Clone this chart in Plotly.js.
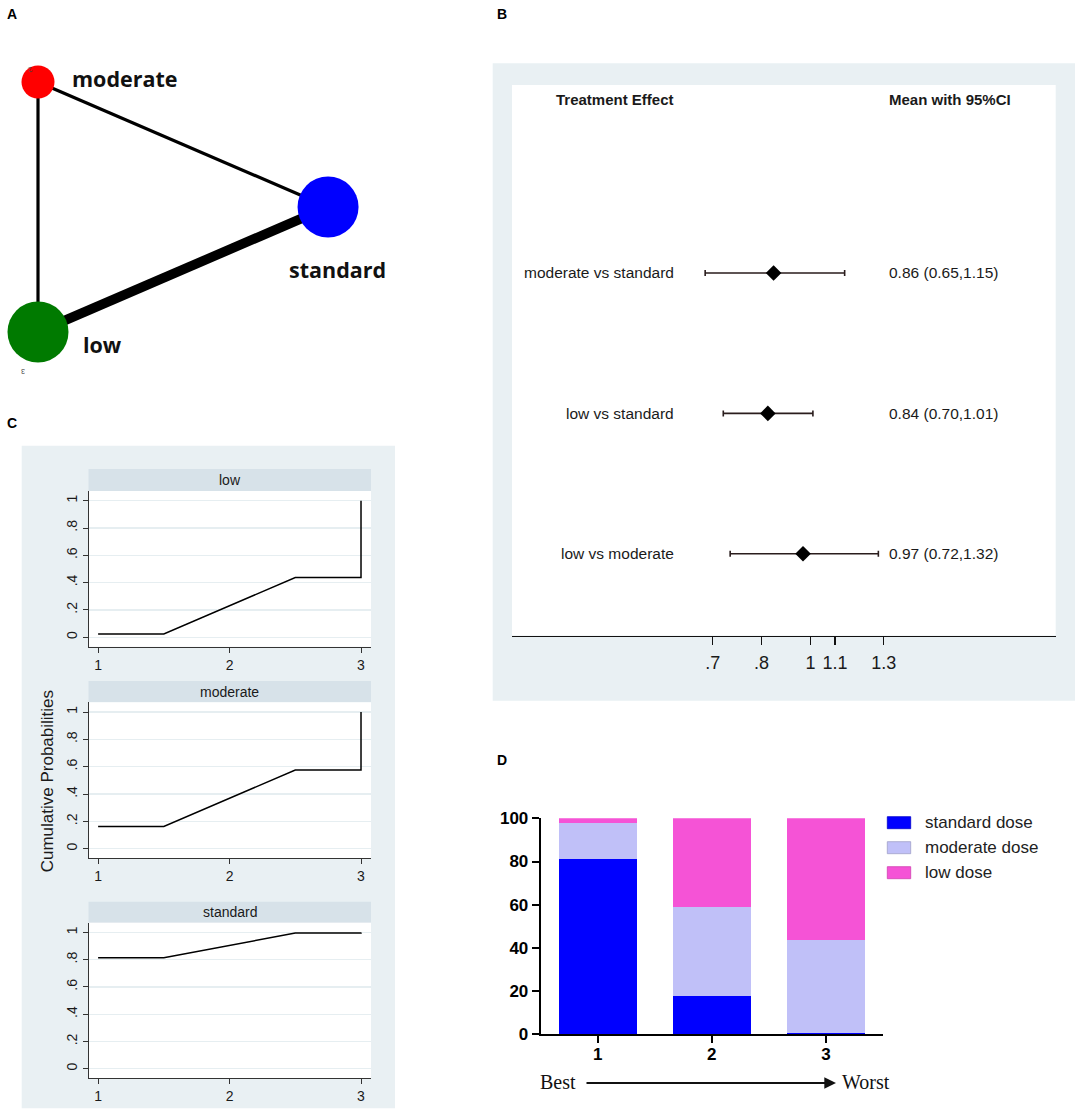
<!DOCTYPE html>
<html><head><meta charset="utf-8">
<script src="https://cdn.plot.ly/plotly-3.0.1.min.js"></script>
<style>html,body{margin:0;padding:0;background:#fff}#chart{width:1084px;height:1119px}</style>
</head><body><div id="chart"></div>
<script>
// ---------- DATA ----------
// Panel A: network of treatments
const nodeNames = ['moderate', 'standard', 'low'];
const edgeFrom = [0, 0, 2];          // moderate-low, moderate-standard, low-standard
const edgeTo = [2, 1, 1];
const edgeStudies = [1, 1, 3];

// Panel B: forest plot (mean with 95% CI)
const comparisons = ['moderate vs standard', 'low vs standard', 'low vs moderate'];
const effectMean = [0.86, 0.84, 0.97];
const ciLow = [0.65, 0.70, 0.72];
const ciHigh = [1.15, 1.01, 1.32];
const forestTickVals = [0.6703, 0.8187, 1, 1.1052, 1.3499];
const forestTickText = ['.7', '.8', '1', '1.1', '1.3'];

// Panel C: cumulative ranking probabilities
const cumPanels = ['low', 'moderate', 'standard'];
const ranks = [1, 2, 3];
const cumLow = [0.024, 0.437, 1];
const cumModerate = [0.163, 0.576, 1];
const cumStandard = [0.815, 0.995, 1];
const cumTickVals = [0, 0.2, 0.4, 0.6, 0.8, 1];
const cumTickText = ['0', '.2', '.4', '.6', '.8', '1'];

// Panel D: rank probabilities (%)
const rankLabels = ['1', '2', '3'];
const doseNames = ['standard dose', 'moderate dose', 'low dose'];
const pStandard = [81.2, 17.7, 0.8];
const pModerate = [16.5, 41.2, 42.7];
const pLow = [2.3, 41.1, 56.5];

// ---------- STYLE / LAYOUT ----------
const W = 1084, H = 1119;
const fx = p => p / W;
const fy = p => 1 - p / H;
const SANS = 'Liberation Sans, Arial, sans-serif';
const SERIF = 'Liberation Serif, Times New Roman, serif';
const INK = '#1a1a1a';
const BG = '#e9f0f3';
const STRIP = '#d7e2e9';

// network layout (unit triangle) and node styles
const netLayout = {moderate: [0, 1], standard: [1, 0.5], low: [0, 0]};
const nodeStyle = {moderate: {size: 33, color: '#ff0000'}, standard: {size: 61, color: '#0000ff'}, low: {size: 61, color: '#007a00'}};
const labelShift = {moderate: [31.7, 3.4, 'left'], standard: [9.2, -62.7, 'center'], low: [42.7, -12.7, 'left']};
const doseColors = ['#0000ff', '#c0c0f8', '#f553d6'];
const doseBorders = ['#0000cc', '#a0a0c8', '#d040b0'];

const traces = [];
const shapes = [];
const annotations = [];

// ---- Panel A ----
edgeFrom.forEach((a, i) => {
  const p = netLayout[nodeNames[a]], q = netLayout[nodeNames[edgeTo[i]]];
  traces.push({type: 'scatter', mode: 'lines', x: [p[0], q[0]], y: [p[1], q[1]],
    line: {color: '#000', width: 3.2 * edgeStudies[i]}, xaxis: 'x', yaxis: 'y', hoverinfo: 'skip', showlegend: false});
});
traces.push({type: 'scatter', mode: 'markers',
  x: nodeNames.map(n => netLayout[n][0]), y: nodeNames.map(n => netLayout[n][1]),
  marker: {size: nodeNames.map(n => nodeStyle[n].size), color: nodeNames.map(n => nodeStyle[n].color), line: {width: 0}, opacity: 1},
  xaxis: 'x', yaxis: 'y', hoverinfo: 'skip', showlegend: false});
nodeNames.forEach(n => {
  const s = labelShift[n];
  annotations.push({xref: 'x', yref: 'y', x: netLayout[n][0], y: netLayout[n][1], text: n, showarrow: false,
    xanchor: s[2], yanchor: 'middle', xshift: s[0], yshift: s[1],
    font: {family: 'Open Sans, sans-serif', size: 21.5, weight: 700, color: '#111'}});
});
annotations.push({xref: 'paper', yref: 'paper', x: fx(25), y: fy(63), text: '2', showarrow: false, textangle: 160, font: {family: SANS, size: 7, color: '#444'}});
annotations.push({xref: 'paper', yref: 'paper', x: fx(19), y: fy(366), text: '3', showarrow: false, textangle: 180, font: {family: SANS, size: 7, color: '#444'}});

// panel letters
[['A', 12, 14], ['B', 502, 14], ['C', 12, 423], ['D', 502, 760]].forEach(l => {
  annotations.push({xref: 'paper', yref: 'paper', x: fx(l[1]), y: fy(l[2]), text: l[0], showarrow: false,
    xanchor: 'center', yanchor: 'middle', font: {family: SANS, size: 14, weight: 700, color: '#000'}});
});

// ---- Panel B ----
const B = {x0: 512, x1: 1055.7, y0: 85, y1: 635.5};
shapes.push({type: 'rect', xref: 'paper', yref: 'paper', x0: fx(492.7), x1: fx(1075), y0: fy(700.7), y1: fy(63.3), fillcolor: BG, line: {width: 0}, layer: 'below'});
shapes.push({type: 'rect', xref: 'paper', yref: 'paper', x0: fx(B.x0), x1: fx(B.x1), y0: fy(B.y1), y1: fy(B.y0), fillcolor: '#fff', line: {width: 0}, layer: 'below'});
const rowPos = comparisons.map((c, i) => comparisons.length - i);
traces.push({type: 'scatter', mode: 'markers', x: effectMean, y: rowPos,
  error_x: {type: 'data', symmetric: false, array: effectMean.map((m, i) => ciHigh[i] - m),
    arrayminus: effectMean.map((m, i) => m - ciLow[i]), color: '#2a1d1d', thickness: 1.6, width: 3},
  marker: {symbol: 'diamond', size: 12, color: '#000'}, xaxis: 'x2', yaxis: 'y2', hoverinfo: 'skip', showlegend: false});
shapes.push({type: 'line', xref: 'x2', yref: 'y2 domain', x0: 0, x1: 0, y0: 0, y1: 1, line: {color: '#4a3cf0', width: 1.5}, layer: 'below'});
comparisons.forEach((c, i) => {
  annotations.push({xref: 'paper', yref: 'y2', x: fx(676), y: rowPos[i], text: c, showarrow: false, xanchor: 'right', yanchor: 'middle',
    font: {family: SANS, size: 15.5, color: INK}});
  annotations.push({xref: 'paper', yref: 'y2', x: fx(887), y: rowPos[i],
    text: effectMean[i].toFixed(2) + ' (' + ciLow[i].toFixed(2) + ',' + ciHigh[i].toFixed(2) + ')',
    showarrow: false, xanchor: 'left', yanchor: 'middle', font: {family: SANS, size: 15.5, color: INK}});
});
annotations.push({xref: 'paper', yref: 'paper', x: fx(676), y: fy(99), text: 'Treatment Effect', showarrow: false, xanchor: 'right', yanchor: 'middle', font: {family: SANS, size: 15, weight: 700, color: INK}});
annotations.push({xref: 'paper', yref: 'paper', x: fx(887), y: fy(99), text: 'Mean with 95%CI', showarrow: false, xanchor: 'left', yanchor: 'middle', font: {family: SANS, size: 15, weight: 700, color: INK}});

// ---- Panel C ----
shapes.push({type: 'rect', xref: 'paper', yref: 'paper', x0: fx(21.7), x1: fx(395), y0: fy(1108.3), y1: fy(445.7), fillcolor: BG, line: {width: 0}, layer: 'below'});
const cPlotX = [88.5, 371];
const cStrips = [[469, 491], [681, 702.3], [901.7, 922.7]];
const cBottoms = [646.7, 858.3, 1078.3];
const cData = [cumLow, cumModerate, cumStandard];
const cAxes = [];
cumPanels.forEach((name, k) => {
  const top = cStrips[k][1], bot = cBottoms[k];
  shapes.push({type: 'rect', xref: 'paper', yref: 'paper', x0: fx(cPlotX[0]), x1: fx(cPlotX[1]), y0: fy(cStrips[k][1]), y1: fy(cStrips[k][0]), fillcolor: STRIP, line: {width: 0}, layer: 'below'});
  shapes.push({type: 'rect', xref: 'paper', yref: 'paper', x0: fx(cPlotX[0]), x1: fx(cPlotX[1]), y0: fy(bot), y1: fy(top), fillcolor: '#fff', line: {width: 0}, layer: 'below'});
  annotations.push({xref: 'paper', yref: 'paper', x: fx((cPlotX[0] + cPlotX[1]) / 2), y: fy((cStrips[k][0] + cStrips[k][1]) / 2), text: name, showarrow: false,
    xanchor: 'center', yanchor: 'middle', font: {family: SANS, size: 14, color: INK}});
  const c = cData[k];
  const ax = String(k + 3);
  traces.push({type: 'scatter', mode: 'lines',
    x: [ranks[0], (ranks[0] + ranks[1]) / 2, (ranks[1] + ranks[2]) / 2, ranks[2], ranks[2]],
    y: [c[0], c[0], c[1], c[1], c[2]],
    line: {color: '#000', width: 1.5}, xaxis: 'x' + ax, yaxis: 'y' + ax, hoverinfo: 'skip', showlegend: false});
  cAxes.push({k: ax, xdom: [fx(cPlotX[0]), fx(cPlotX[1])], ydom: [fy(bot), fy(top)]});
});
annotations.push({xref: 'paper', yref: 'paper', x: fx(48.3), y: fy(781), text: 'Cumulative Probabilities', textangle: -90, showarrow: false,
  xanchor: 'center', yanchor: 'middle', font: {family: SANS, size: 17, color: INK}});

// ---- Panel D ----
const D = {x0: 540.7, x1: 883, y0: 818.3, y1: 1034.3};
[pStandard, pModerate, pLow].forEach((vals, i) => {
  traces.push({type: 'bar', x: ranks, y: vals, name: doseNames[i], width: 0.68,
    marker: {color: doseColors[i], line: {width: 0}}, xaxis: 'x6', yaxis: 'y6', hoverinfo: 'skip', showlegend: false});
});
const legRows = [822.7, 847.7, 872.7];
doseNames.forEach((n, i) => {
  shapes.push({type: 'rect', xref: 'paper', yref: 'paper', x0: fx(887.3), x1: fx(910.7), y0: fy(legRows[i] + 6), y1: fy(legRows[i] - 6),
    fillcolor: doseColors[i], line: {color: doseBorders[i], width: 0.8}});
  annotations.push({xref: 'paper', yref: 'paper', x: fx(923), y: fy(legRows[i]), text: n, showarrow: false, xanchor: 'left', yanchor: 'middle',
    font: {family: SANS, size: 17, color: '#222'}});
});
annotations.push({xref: 'paper', yref: 'paper', x: fx(578), y: fy(1082), text: 'Best', showarrow: false, xanchor: 'right', yanchor: 'middle', font: {family: SERIF, size: 20, color: '#111'}});
annotations.push({xref: 'paper', yref: 'paper', x: fx(840), y: fy(1082), text: 'Worst', showarrow: false, xanchor: 'left', yanchor: 'middle', font: {family: SERIF, size: 20, color: '#111'}});
annotations.push({xref: 'paper', yref: 'paper', x: fx(836), y: fy(1083), ax: -251, ay: 0, text: '', showarrow: true,
  arrowhead: 2, arrowsize: 1.3, arrowwidth: 1.8, arrowcolor: '#111', standoff: 0, startstandoff: 0});

// ---------- AXES ----------
const layout = {
  width: W, height: H, margin: {l: 0, r: 0, t: 0, b: 0},
  paper_bgcolor: '#fff', plot_bgcolor: 'rgba(0,0,0,0)', showlegend: false, barmode: 'stack',
  shapes: shapes, annotations: annotations,
  xaxis: {domain: [0, fx(420)], range: [-0.131, 1.317], visible: false, fixedrange: true},
  yaxis: {domain: [fy(380), 1], range: [-0.192, 1.328], visible: false, fixedrange: true},
  xaxis2: {domain: [fx(B.x0), fx(B.x1)], type: 'log', range: [-0.5302, 0.4356], tickvals: forestTickVals, ticktext: forestTickText,
    ticks: 'outside', ticklen: 8, tickwidth: 1.2, tickcolor: '#111', showline: true, linecolor: '#111', linewidth: 1.6,
    showgrid: false, zeroline: false, ticklabelstandoff: 2, tickfont: {family: SANS, size: 18, color: INK}, anchor: 'y2', fixedrange: true},
  yaxis2: {domain: [fy(B.y1), fy(B.y0)], range: [0.418, 4.339], visible: false, anchor: 'x2', fixedrange: true},
  xaxis6: {domain: [fx(D.x0), fx(D.x1)], range: [0.5, 3.5], tickvals: ranks, ticktext: rankLabels, ticks: 'outside', ticklen: 7, tickwidth: 2,
    tickcolor: '#000', showline: true, linecolor: '#000', linewidth: 2, showgrid: false, zeroline: false, anchor: 'y6',
    ticklabelstandoff: -4, tickfont: {family: SANS, size: 17, weight: 700, color: '#000'}, fixedrange: true},
  yaxis6: {domain: [fy(D.y1), fy(D.y0)], range: [0, 100], tickvals: [0, 20, 40, 60, 80, 100], ticks: 'outside', ticklen: 7, tickwidth: 2,
    tickcolor: '#000', showline: true, linecolor: '#000', linewidth: 2, showgrid: false, zeroline: false, anchor: 'x6',
    tickfont: {family: SANS, size: 17, weight: 700, color: '#000'}, fixedrange: true}
};
cAxes.forEach(a => {
  layout['xaxis' + a.k] = {domain: a.xdom, range: [0.927, 3.076], tickvals: ranks, ticks: 'outside', ticklen: 5, tickcolor: '#333',
    showline: true, linecolor: '#333', linewidth: 1, showgrid: false, zeroline: false, anchor: 'y' + a.k,
    tickfont: {family: SANS, size: 14, color: INK}, fixedrange: true};
  layout['yaxis' + a.k] = {domain: a.ydom, range: [-0.0695, 1.071], tickvals: cumTickVals, ticktext: cumTickText, tickangle: -90,
    ticks: 'outside', ticklen: 5, tickcolor: '#333', showline: true, linecolor: '#333', linewidth: 1,
    showgrid: true, gridcolor: '#e6eef1', gridwidth: 1.2, zeroline: false, anchor: 'x' + a.k,
    tickfont: {family: SANS, size: 14, color: INK}, fixedrange: true};
});

Plotly.newPlot('chart', traces, layout, {displayModeBar: false, staticPlot: true});
</script>
</body></html>
